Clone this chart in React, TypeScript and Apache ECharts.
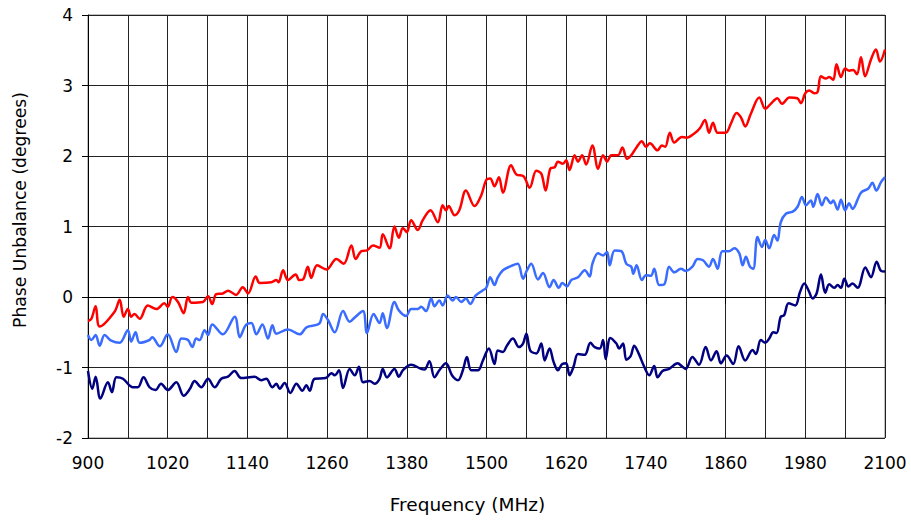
import React, { useEffect, useRef } from "react";
import * as echarts from "echarts";

const xTicks = [900, 1020, 1140, 1260, 1380, 1500, 1620, 1740, 1860, 1980, 2100];
const yTicks = [-2, -1, 0, 1, 2, 3, 4];

const redPoints: [number, number][] = [
  [900, -0.34], [905, -0.31], [911.5, -0.13], [917.6, -0.42], [940, -0.21], [947.7, -0.04], [953.7, -0.28],
  [960, -0.17], [965, -0.28], [970, -0.24], [977.8, -0.31], [990, -0.12], [1003, -0.17], [1015, -0.09],
  [1020, -0.14], [1027, 0.0], [1035.5, -0.07], [1044, -0.23], [1050.6, 0.0], [1055.6, -0.08], [1073, -0.07],
  [1080.7, 0.01], [1087, -0.1], [1093, 0.04], [1103, 0.05], [1111, 0.09], [1123, 0.03], [1133, 0.14],
  [1141, 0.05], [1152.5, 0.29], [1158.5, 0.2], [1176, 0.21], [1183.5, 0.24], [1187, 0.21], [1193.7, 0.38],
  [1201, 0.24], [1212.7, 0.32], [1218, 0.24], [1223.8, 0.25], [1231, 0.43], [1236, 0.27], [1245, 0.45],
  [1259, 0.39], [1274, 0.54], [1285, 0.47], [1296.6, 0.73], [1303, 0.54], [1311.6, 0.65], [1320, 0.66],
  [1329, 0.73], [1339, 0.7], [1343.8, 0.89], [1354, 0.69], [1361.4, 1.0], [1368, 0.84], [1374, 0.98],
  [1380, 0.92], [1386.5, 1.09], [1396.6, 0.95], [1404, 1.09], [1415.7, 1.23], [1426.7, 1.06], [1434, 1.3],
  [1439, 1.23], [1443, 1.29], [1452, 1.16], [1459, 1.23], [1469, 1.51], [1482, 1.29], [1492, 1.44],
  [1499.6, 1.66], [1505.6, 1.68], [1512, 1.57], [1518.7, 1.7], [1524.7, 1.48], [1537, 1.87], [1544.8, 1.74],
  [1555.9, 1.71], [1565, 1.55], [1575, 1.79], [1582.5, 1.75], [1589, 1.51], [1596, 1.82], [1602.6, 1.84],
  [1607.6, 1.92], [1615, 1.89], [1620, 1.94], [1625, 1.8], [1632.8, 2.01], [1637.8, 1.92], [1644, 2.01],
  [1650, 1.88], [1659.4, 2.15], [1668, 1.82], [1675.5, 2.01], [1681.5, 1.92], [1688, 2.01], [1698, 2.01],
  [1704.6, 2.12], [1711.6, 1.96], [1718, 2.01], [1725, 2.11], [1734, 2.21], [1740, 2.13], [1746, 2.18],
  [1757.6, 2.08], [1764, 2.15], [1769, 2.13], [1776, 2.33], [1782.7, 2.19], [1794, 2.27], [1801, 2.26],
  [1812.8, 2.32], [1821, 2.39], [1829, 2.51], [1835, 2.33], [1841, 2.47], [1848, 2.33], [1860, 2.33],
  [1868, 2.46], [1876.5, 2.61], [1883, 2.55], [1889.6, 2.42], [1898, 2.6], [1910.7, 2.83], [1919.7, 2.67],
  [1928, 2.74], [1938, 2.82], [1944.8, 2.74], [1956, 2.83], [1968, 2.82], [1973.4, 2.75], [1980, 2.89],
  [1986, 2.93], [1993.5, 2.89], [1998.5, 2.91], [2003.6, 3.13], [2011, 3.1], [2016, 3.12], [2022, 3.08],
  [2027, 3.3], [2033.7, 3.12], [2040, 3.24], [2046, 3.21], [2052, 3.22], [2057.8, 3.16], [2063.8, 3.4],
  [2070, 3.13], [2078.9, 3.37], [2086.4, 3.51], [2092.4, 3.34], [2100, 3.51],
];

const bluePoints: [number, number][] = [
  [900, -0.54], [905, -0.61], [911.5, -0.54], [917.6, -0.69], [925, -0.54], [935, -0.62], [947.7, -0.65],
  [960, -0.47], [965, -0.63], [971.6, -0.5], [977.8, -0.65], [992.6, -0.61], [996.6, -0.57], [1008, -0.7],
  [1020, -0.53], [1033, -0.78], [1040.5, -0.59], [1050.6, -0.61], [1057, -0.71], [1063, -0.59], [1068, -0.61],
  [1075.5, -0.47], [1080.7, -0.54], [1087, -0.39], [1103, -0.53], [1121, -0.28], [1128.5, -0.57],
  [1137.5, -0.4], [1146, -0.37], [1153.5, -0.53], [1162.6, -0.39], [1171, -0.59], [1177.6, -0.4],
  [1183.6, -0.52], [1201, -0.46], [1218.8, -0.53], [1229, -0.43], [1248, -0.38], [1254, -0.24],
  [1261.5, -0.33], [1271.5, -0.5], [1284, -0.2], [1294, -0.35], [1301.6, -0.29], [1314, -0.2], [1320, -0.51],
  [1330, -0.24], [1339, -0.37], [1343.8, -0.23], [1350, -0.44], [1361.4, -0.07], [1368, -0.19], [1379, -0.27],
  [1386.5, -0.17], [1396.6, -0.17], [1401.6, -0.14], [1409, -0.2], [1416.7, -0.02], [1421.7, -0.13],
  [1429, -0.05], [1434, -0.12], [1441.5, 0.02], [1449, -0.05], [1454, 0.0], [1462, -0.07], [1469, -0.02],
  [1475.5, -0.1], [1483.5, 0.02], [1493.6, 0.09], [1499.6, 0.13], [1505.6, 0.28], [1512, 0.17], [1517, 0.28],
  [1524.7, 0.38], [1534.8, 0.43], [1547, 0.47], [1555, 0.26], [1561, 0.38], [1567.4, 0.47], [1577.5, 0.25],
  [1585, 0.34], [1595, 0.14], [1601, 0.24], [1609, 0.13], [1614, 0.2], [1621, 0.15], [1627.7, 0.24],
  [1637.8, 0.28], [1648, 0.38], [1655.4, 0.29], [1659.4, 0.47], [1668, 0.62], [1675.5, 0.59], [1681.5, 0.64],
  [1685.5, 0.45], [1693, 0.66], [1703, 0.65], [1710.6, 0.47], [1718, 0.43], [1721, 0.33], [1726, 0.45],
  [1734, 0.24], [1740, 0.31], [1747.5, 0.3], [1752.5, 0.4], [1760, 0.17], [1767.6, 0.18], [1775, 0.43],
  [1782.7, 0.35], [1792.7, 0.4], [1800, 0.37], [1810, 0.43], [1817.8, 0.54], [1826, 0.52], [1835, 0.43],
  [1841, 0.54], [1848, 0.4], [1855, 0.65], [1865, 0.65], [1873, 0.69], [1880.6, 0.62], [1885.6, 0.45],
  [1890.6, 0.57], [1896.6, 0.43], [1901.6, 0.4], [1908, 0.85], [1914.7, 0.71], [1919.7, 0.81], [1925.7, 0.69],
  [1933, 0.88], [1938, 0.8], [1943, 1.06], [1950.8, 1.18], [1961, 1.21], [1968.4, 1.28], [1975, 1.42],
  [1981, 1.3], [1988.5, 1.37], [1992, 1.28], [1998.5, 1.46], [2005, 1.3], [2011, 1.41], [2018.6, 1.33],
  [2022, 1.37], [2028.6, 1.24], [2033.7, 1.38], [2040, 1.23], [2046, 1.33], [2051, 1.25], [2063.8, 1.48],
  [2075, 1.54], [2081, 1.62], [2087, 1.51], [2094, 1.63], [2100, 1.7],
];

const navyPoints: [number, number][] = [
  [900, -1.05], [906.5, -1.3], [911.5, -1.13], [918.6, -1.44], [930, -1.21], [936, -1.35], [942.7, -1.14],
  [952.7, -1.16], [967.7, -1.28], [975, -1.28], [983.6, -1.14], [992.6, -1.28], [1001.6, -1.32],
  [1010, -1.23], [1020, -1.32], [1033, -1.21], [1044, -1.4], [1053, -1.31], [1060.6, -1.19], [1070.6, -1.28],
  [1080.7, -1.16], [1090.7, -1.28], [1100.7, -1.16], [1110.7, -1.13], [1120.7, -1.05], [1130.7, -1.15],
  [1150.8, -1.13], [1160.8, -1.18], [1168.4, -1.16], [1177.6, -1.28], [1183.6, -1.23], [1188.6, -1.3],
  [1196, -1.22], [1204.7, -1.36], [1213.7, -1.23], [1222.8, -1.33], [1228.8, -1.25], [1233.8, -1.33],
  [1241.3, -1.16], [1257.9, -1.15], [1266.4, -1.08], [1271.5, -1.11], [1278, -1.04], [1284, -1.29],
  [1294, -1.02], [1301.6, -1.11], [1308, -0.99], [1314, -1.21], [1324, -1.19], [1331.5, -1.23], [1339, -1.16],
  [1343.8, -1.02], [1350, -1.14], [1361.4, -1.02], [1368, -1.13], [1374, -1.04], [1386.5, -0.96],
  [1401.6, -1.02], [1406.6, -1.03], [1414, -0.91], [1421.7, -1.14], [1429, -1.04], [1439, -0.94],
  [1448, -1.11], [1457, -1.18], [1464.4, -1.04], [1470.5, -0.85], [1477, -1.04], [1487, -1.04],
  [1494.6, -0.9], [1503.6, -0.73], [1512, -0.95], [1517, -0.76], [1524.7, -0.78], [1530.7, -0.69],
  [1539.8, -0.59], [1548.7, -0.71], [1555, -0.66], [1560, -0.52], [1566, -0.76], [1575, -0.8],
  [1582.5, -0.66], [1587.5, -0.9], [1595, -0.73], [1601, -0.92], [1607.6, -1.04], [1614, -0.95],
  [1620, -0.94], [1625, -1.11], [1631, -0.99], [1637.8, -0.81], [1648, -0.82], [1656.4, -0.65],
  [1663, -0.71], [1670.5, -0.73], [1675.5, -0.61], [1679.5, -0.88], [1686.5, -0.58], [1695.6, -0.66],
  [1699.6, -0.73], [1705.6, -0.66], [1710.6, -0.89], [1717, -0.84], [1722.4, -0.69], [1729, -0.8],
  [1737.5, -0.99], [1745, -1.11], [1752.5, -0.98], [1757.6, -1.14], [1765, -1.05], [1775, -1.02],
  [1787.7, -0.94], [1795, -0.99], [1800, -1.02], [1810, -0.85], [1820, -0.96], [1830, -0.71], [1838, -0.9],
  [1846.4, -0.77], [1853, -0.94], [1861.5, -0.83], [1871.5, -0.95], [1879.6, -0.7], [1889.6, -0.9],
  [1900.6, -0.75], [1905.7, -0.81], [1913, -0.61], [1919.7, -0.65], [1925.7, -0.59], [1931.8, -0.5],
  [1936.8, -0.51], [1943, -0.28], [1948, -0.26], [1954.9, -0.09], [1964.9, -0.12], [1972, 0.07],
  [1978.5, 0.19], [1985, 0.09], [1991, -0.02], [1997, 0.05], [2003.6, 0.32], [2010, 0.06], [2016, 0.18],
  [2023.6, 0.13], [2028.6, 0.17], [2033.7, 0.13], [2038.7, 0.26], [2045, 0.15], [2051, 0.19], [2058.8, 0.13],
  [2070.3, 0.42], [2078.9, 0.28], [2087.4, 0.5], [2094, 0.37], [2100, 0.36],
];

const FONT = "DejaVu Sans, Verdana, sans-serif";

export default function App() {
  const ref = useRef<HTMLDivElement>(null);
  useEffect(() => {
    if (!ref.current) return;
    const chart = echarts.init(ref.current, null, { renderer: "svg" });
    const lineSeries = (name: string, data: [number, number][], color: string) => ({
      name,
      type: "line",
      data,
      showSymbol: false,
      smooth: 0.35,
      lineStyle: { color, width: 2.5 },
      itemStyle: { color },
      z: 5,
    });
    chart.setOption({
      animation: false,
      backgroundColor: "#ffffff",
      grid: {
        left: 88,
        right: 26,
        top: 15,
        bottom: 82,
        show: true,
        borderColor: "#808080",
        borderWidth: 1,
      },
      xAxis: {
        type: "value",
        min: xTicks[0],
        max: xTicks[xTicks.length - 1],
        interval: 120,
        name: "Frequency (MHz)",
        nameLocation: "middle",
        nameGap: 57,
        nameTextStyle: { fontFamily: FONT, fontSize: 18.5, color: "#000", padding: [0, 38, 0, 0] },
        axisLine: { show: true, lineStyle: { color: "#000", width: 1 } },
        axisTick: { show: true, length: 7, inside: false, lineStyle: { color: "#000" } },
        axisLabel: {
          margin: 16,
          fontFamily: FONT,
          fontSize: 17,
          color: "#000",
          formatter: (v: number) => String(v),
        },
        splitLine: { show: true, lineStyle: { color: "#222", width: 1 } },
        minorTick: { show: false, splitNumber: 2 },
        minorSplitLine: { show: true, lineStyle: { color: "#222", width: 1 } },
      },
      yAxis: {
        type: "value",
        min: yTicks[0],
        max: yTicks[yTicks.length - 1],
        interval: 1,
        name: "Phase Unbalance (degrees)",
        nameLocation: "middle",
        nameGap: 60,
        nameTextStyle: { fontFamily: FONT, fontSize: 17.2, color: "#000", padding: [0, 0, 0, 33] },
        axisLine: { show: true, lineStyle: { color: "#000", width: 1 } },
        axisTick: { show: true, length: 6, lineStyle: { color: "#000" } },
        axisLabel: {
          margin: 15,
          fontFamily: FONT,
          fontSize: 17,
          color: "#000",
          formatter: (v: number) => String(v),
        },
        splitLine: { show: true, lineStyle: { color: "#222", width: 1 } },
      },
      series: [
        lineSeries("Red", redPoints, "#ff0000"),
        lineSeries("Blue", bluePoints, "#3a6cff"),
        lineSeries("Navy", navyPoints, "#000080"),
      ],
    });
    return () => chart.dispose();
  }, []);
  return (
    <div
      ref={ref}
      style={{ position: "fixed", left: 0, top: 0, width: 911, height: 520, background: "#fff" }}
    />
  );
}
